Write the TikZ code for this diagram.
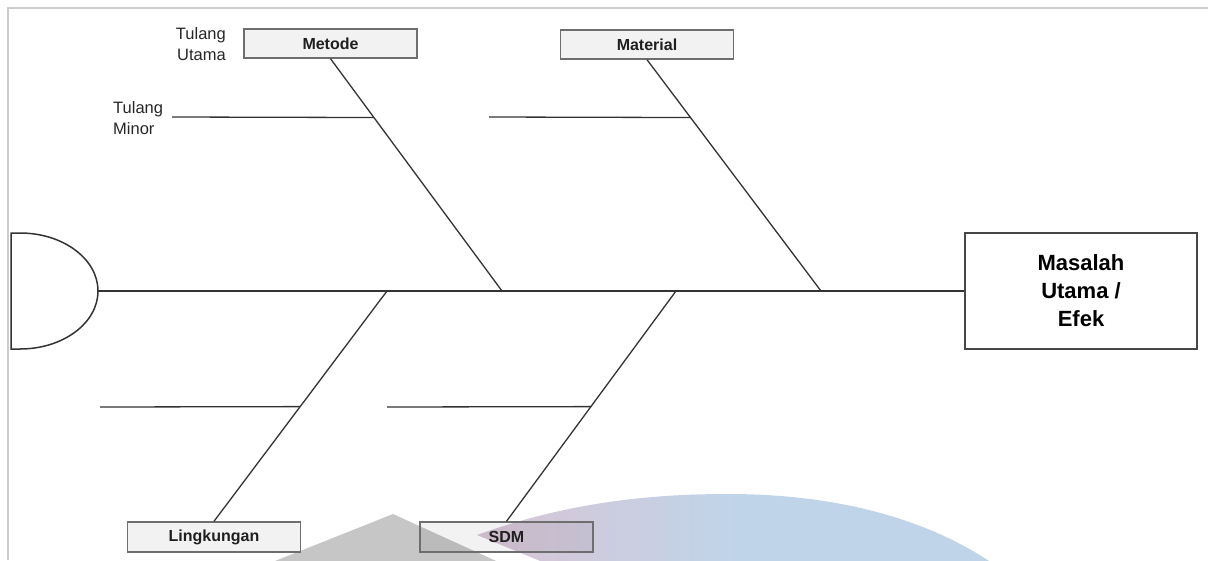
\documentclass[tikz,border=0pt]{standalone}
\usepackage{fontspec}
\setmainfont{Liberation Sans}
\usetikzlibrary{calc}
\definecolor{boxline}{HTML}{6E6E6E}
\definecolor{bonecol}{HTML}{333333}
\definecolor{framecol}{HTML}{CCCCCC}
\definecolor{wmgray}{RGB}{198,198,198}
\definecolor{wmpink}{RGB}{217,196,212}
\definecolor{wmblue}{RGB}{192,212,233}
\begin{document}
\begin{tikzpicture}[x=1pt,y=-1pt,
  bone/.style={draw=bonecol,line width=1.3pt},
  frameline/.style={draw=framecol,line width=1.4pt},
  catbox/.style={draw=boxline,fill=black,fill opacity=0.05,text opacity=1,draw opacity=1,line width=1.4pt,minimum width=173pt,minimum height=29pt,inner sep=0pt,text=black!88,font=\fontsize{16}{19}\selectfont\bfseries},
  effectbox/.style={draw=bonecol!90,fill=white,line width=1.4pt,minimum width=232pt,minimum height=116pt,inner sep=0pt,align=center,font=\fontsize{22}{28}\selectfont\bfseries},
  lbl/.style={inner sep=0pt,font=\fontsize{16.5}{21}\selectfont,text=black!85}
]
\useasboundingbox (0,0) rectangle (1208,560);

% watermark (behind the diagram)
\begin{scope}
\clip (0,0) rectangle (1208,560);
\fill[wmgray] (393,514) -- (265,565) -- (505,565) -- cycle;
\shade[left color=wmpink,right color=wmblue,middle color=wmblue]
  (477,535) .. controls (560,505) and (640,494) .. (728,494)
  .. controls (840,494) and (930,520) .. (995,565) -- (550,565) -- cycle;
\end{scope}

\draw[frameline] (8,560) -- (8,8) -- (1208,8);

% category boxes
\node[catbox] (metode) at (330.5,43.5) {Metode};
\node[catbox] (material) at (647,44.5) {Material};
\node[catbox,minimum height=30pt] (lingkungan) at (214,537) {Lingkungan};
\node[catbox,minimum height=30pt] (sdm) at (506.5,537) {SDM};
\node[effectbox] (masalah) at (1081,291) {Masalah\\Utama /\\Efek};

% head
\draw[bone,line width=1.5pt] (11,233) -- (20,233) arc[start angle=-90,end angle=90,x radius=78,y radius=58] -- (11,349) -- cycle;
\coordinate (head) at (98,291);

% spine
\draw[bone] (head) -- (masalah.west);

% joints on spine
\coordinate (jmet) at (502,291);
\coordinate (jmat) at (821,291);
\coordinate (jling) at (387,291);
\coordinate (jsdm) at (676,291);

% main bones
\draw[bone] (metode.south) -- (jmet);
\draw[bone] (material.south) -- (jmat);
\draw[bone] (lingkungan.north) -- (jling);
\draw[bone] (sdm.north) -- (jsdm);

% minor bones
\coordinate (mmet) at ($(metode.south)!0.2532!(jmet)$);
\coordinate (mmat) at ($(material.south)!0.25!(jmat)$);
\coordinate (mling) at ($(jling)!0.502!(lingkungan.north)$);
\coordinate (msdm) at ($(jsdm)!0.502!(sdm.north)$);
\coordinate (emet) at (172,117);
\coordinate (emat) at (489,117);
\coordinate (eling) at (100,407);
\coordinate (esdm) at (387,407);
\draw[bone] (emet) -- (mmet);
\draw[bone] (emat) -- (mmat);
\draw[bone] (eling) -- (mling);
\draw[bone] (esdm) -- (msdm);

% labels
\node[lbl,anchor=east,align=right] (tutama) at (226,44) {Tulang\\Utama};
\node[lbl,anchor=west,align=left] (tminor) at (113,118) {Tulang\\Minor};
\end{tikzpicture}
\end{document}
